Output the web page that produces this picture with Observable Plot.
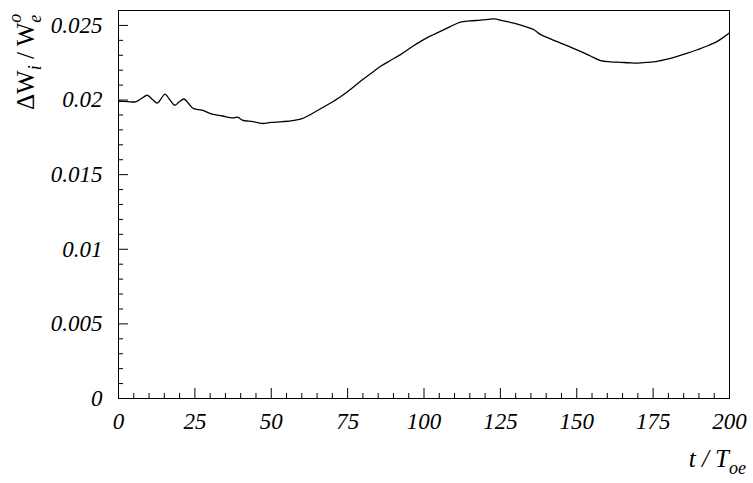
<!DOCTYPE html>
<html><head><meta charset="utf-8">
<script src="https://cdn.jsdelivr.net/npm/d3@7"></script>
<script src="https://cdn.jsdelivr.net/npm/@observablehq/plot@0.6"></script>
<style>
body{margin:0;background:#fff}
svg text, svg tspan { font-family: "Liberation Serif", "DejaVu Serif", serif !important; }
</style>
</head><body><div id="chart"></div>
<script>
const tValues = [0,3,5.6,7.5,9.4,11,12.7,13.9,15.2,16.8,18.4,19.9,21.4,23,24.6,27.4,30.6,34,37.2,39,40.5,44,47,50,53.6,57,60.1,63,66,69,72.7,76,79.2,82.5,85.8,89,92.3,95.6,98.9,102,105.4,108.6,111.9,115,118.5,121,122.9,126,129.4,132.7,136,138.1,141.4,144.7,148,151.2,154.5,157.8,161,164.3,167,169.8,173,176.3,179.6,182.9,186,189.4,192.7,196,198,199.8];
const ratioValues = [0.01992,0.01990,0.01988,0.02010,0.02032,0.02006,0.01980,0.02008,0.02039,0.02002,0.01965,0.01988,0.02007,0.01975,0.01942,0.01932,0.01905,0.01893,0.01880,0.01885,0.01866,0.01855,0.01843,0.01850,0.01855,0.01862,0.01876,0.01905,0.01940,0.01975,0.02022,0.02072,0.02126,0.02176,0.02226,0.02265,0.02304,0.02350,0.02393,0.02428,0.02460,0.02492,0.02522,0.02530,0.02535,0.02540,0.02544,0.02530,0.02515,0.02496,0.02471,0.02440,0.02410,0.02382,0.02354,0.02326,0.02295,0.02264,0.02256,0.02253,0.02250,0.02248,0.02252,0.02259,0.02274,0.02293,0.02313,0.02337,0.02362,0.02393,0.02420,0.02448];
const xMajorTicks = [0,25,50,75,100,125,150,175,200];
const xTickLabels = ["0","25","50","75","100","125","150","175","200"];
const xMinorTicks = [5,10,15,20,30,35,40,45,55,60,65,70,80,85,90,95,105,110,115,120,130,135,140,145,155,160,165,170,180,185,190,195];
const yMajorTicks = [0,0.005,0.01,0.015,0.02,0.025];
const yTickLabels = ["0","0.005","0.01","0.015","0.02","0.025"];
const yMinorTicks = [0.001,0.002,0.003,0.004,0.006,0.007,0.008,0.009,0.011,0.012,0.013,0.014,0.016,0.017,0.018,0.019,0.021,0.022,0.023,0.024,0.026];

const data = tValues.map((t, i) => ({t, r: ratioValues[i]}));

const plot = Plot.plot({
  width: 753, height: 483,
  marginLeft: 118, marginRight: 24, marginTop: 10, marginBottom: 85,
  style: {fontFamily: "Liberation Serif, DejaVu Serif, serif", fontSize: "23px", fontStyle: "italic", background: "#fff", color: "#000"},
  x: {domain: [0, 200]},
  y: {domain: [0, 0.026]},
  marks: [
    Plot.frame({stroke: "#000", strokeWidth: 1}),
    Plot.axisX(xMinorTicks, {tickSize: -5, tickFormat: () => "", label: null}),
    Plot.axisX(xMajorTicks, {tickSize: -10, tickFormat: () => "", label: null}),
    Plot.axisX(xMajorTicks, {tickSize: 0, tickPadding: 14, tickFormat: d => xTickLabels[xMajorTicks.indexOf(d)], label: null}),
    Plot.axisY(yMinorTicks, {tickSize: -5, tickFormat: () => "", label: null}),
    Plot.axisY(yMajorTicks, {tickSize: -10, tickFormat: () => "", label: null}),
    Plot.axisY(yMajorTicks, {tickSize: 0, tickPadding: 16, tickFormat: d => yTickLabels[yMajorTicks.indexOf(d)], label: null}),
    Plot.line(data, {x: "t", y: "r", stroke: "#000", strokeWidth: 1.3, curve: "catmull-rom"})
  ]
});

const svg = d3.select(plot);
const xl = svg.append("text")
  .attr("x", 746).attr("y", 467)
  .attr("text-anchor", "end")
  .attr("font-style", "italic")
  .attr("font-size", 25)
  .attr("fill", "#000");
xl.append("tspan").text("t / T");
xl.append("tspan").attr("dy", 7).attr("font-size", 18).text("oe");

const yl = svg.append("text")
  .attr("transform", "translate(34,110) rotate(-90)")
  .attr("text-anchor", "start")
  .attr("font-style", "normal")
  .attr("font-size", 25)
  .attr("fill", "#000");
yl.append("tspan").text("\u0394W");
yl.append("tspan").attr("dy", 7).attr("font-size", 18).attr("font-style", "italic").text("i");
yl.append("tspan").attr("dy", -7).text(" / W");
yl.append("tspan").attr("dy", 7).attr("font-size", 18).attr("font-style", "italic").text("e");
yl.append("tspan").attr("dx", -8).attr("dy", -20).attr("font-size", 18).attr("font-style", "italic").text("o");

document.getElementById("chart").appendChild(plot);
</script>
</body></html>
